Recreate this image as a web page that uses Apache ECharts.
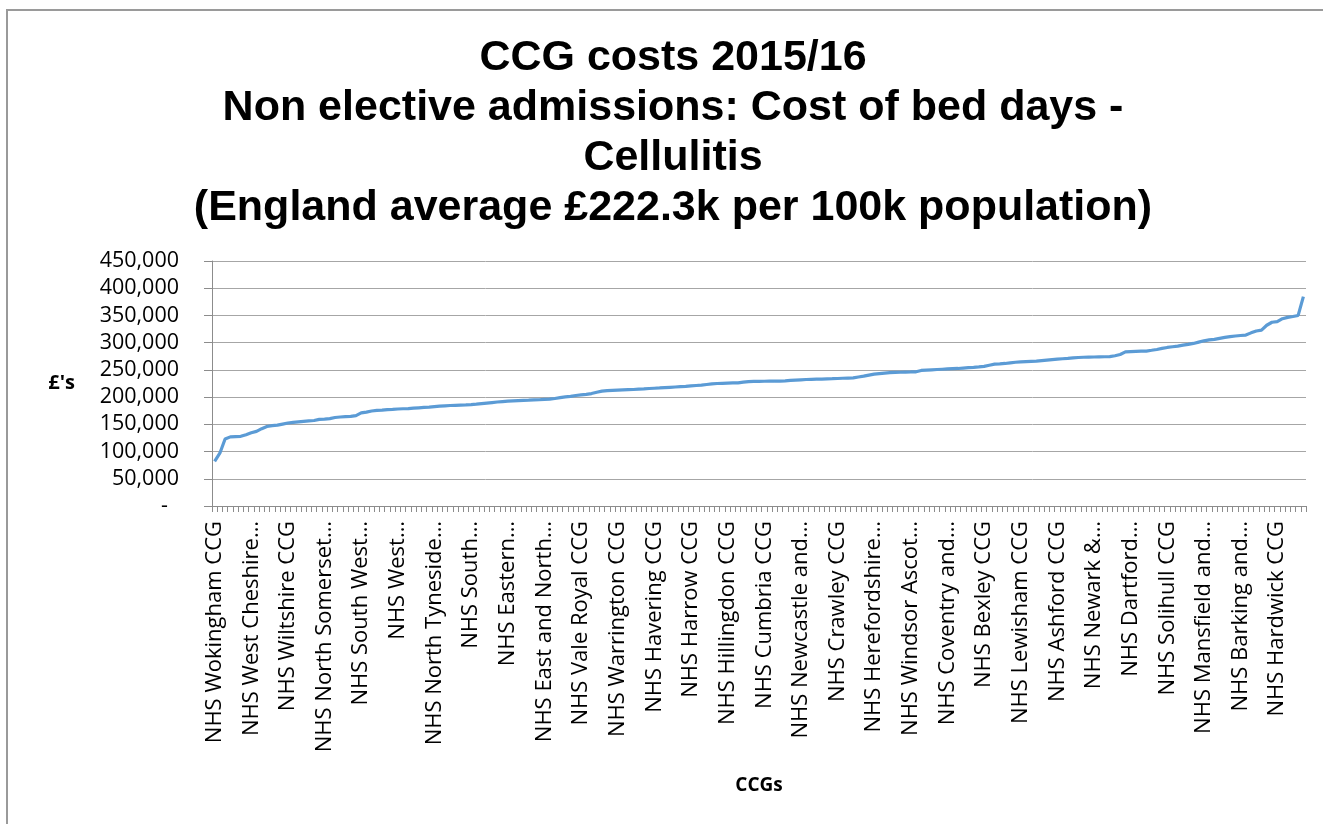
<!DOCTYPE html>
<html>
<head>
<meta charset="utf-8">
<script src="https://cdn.jsdelivr.net/npm/echarts@6/dist/echarts.min.js"></script>
<style>
html,body{margin:0;padding:0;background:#fff;}
#chart{width:1323px;height:824px;}
</style>
</head>
<body>
<div id="chart"></div>
<script>
const titleLines = [
  "CCG costs 2015/16",
  "Non elective admissions: Cost of bed days -",
  "Cellulitis",
  "(England average £222.3k per 100k population)"
];
const yAxisName = "£'s";
const xAxisName = "CCGs";
const ccgCount = 209;
const labelStep = 7;
const shownLabels = [
  "NHS Wokingham CCG", "NHS West Cheshire…", "NHS Wiltshire CCG", "NHS North Somerset…",
  "NHS South West…", "NHS West…", "NHS North Tyneside…", "NHS South…",
  "NHS Eastern…", "NHS East and North…", "NHS Vale Royal CCG", "NHS Warrington CCG",
  "NHS Havering CCG", "NHS Harrow CCG", "NHS Hillingdon CCG", "NHS Cumbria CCG",
  "NHS Newcastle and…", "NHS Crawley CCG", "NHS Herefordshire…", "NHS Windsor Ascot…",
  "NHS Coventry and…", "NHS Bexley CCG", "NHS Lewisham CCG", "NHS Ashford CCG",
  "NHS Newark &…", "NHS Dartford…", "NHS Solihull CCG", "NHS Mansfield and…",
  "NHS Barking and…", "NHS Hardwick CCG"
];
const costs = [
  82000, 97000, 123000, 127000, 127500, 128000, 131000, 134500, 137000, 142000,
  146000, 147500, 148500, 150500, 152500, 153500, 154500, 155500, 156500, 157000,
  159000, 159500, 160500, 162500, 163500, 164000, 164500, 166000, 171000, 172500,
  174500, 175500, 176000, 177000, 177500, 178200, 178600, 179000, 179800, 180400,
  181000, 181600, 182500, 183400, 184000, 184600, 185000, 185400, 185800, 186300,
  187000, 188000, 189000, 190000, 191000, 191800, 192500, 193000, 193500, 194000,
  194300, 194800, 195200, 195700, 196200, 197500, 199000, 200500, 201500, 203000,
  204000, 205000, 206500, 209000, 211000, 211800, 212300, 212800, 213200, 213600,
  214000, 214500, 215000, 215800, 216300, 216800, 217400, 218000, 218600, 219200,
  219800, 220600, 221300, 222000, 223200, 224300, 225000, 225400, 225700, 226000,
  226300, 227500, 228600, 228800, 229000, 229100, 229200, 229300, 229400, 229800,
  230600, 231300, 231800, 232300, 232600, 232900, 233200, 233500, 233800, 234200,
  234600, 235000, 235400, 237000, 238500, 240500, 242300, 243300, 244200, 245000,
  245400, 245700, 246000, 246200, 246500, 249000, 249700, 250200, 250700, 251200,
  251700, 252200, 252600, 253300, 254000, 254700, 255500, 256500, 258500, 260500,
  261000, 261800, 263000, 264000, 264800, 265200, 265600, 266000, 267000, 268000,
  269000, 269800, 270500, 271200, 272000, 272800, 273200, 273500, 273700, 273900,
  274100, 274300, 276000, 278300, 283000, 283600, 284000, 284300, 284600, 286000,
  287500, 289500, 291200, 292500, 293700, 295500, 297000, 298600, 301000, 303400,
  305000, 306000, 308000, 309600, 311000, 312200, 313200, 314000, 318000, 321500,
  323000, 332000, 337500, 338500, 344000, 346500, 348000, 350000, 384500
];
const yMax = 450000;
const yInterval = 50000;

const categories = [];
for (let i = 0; i < ccgCount; i++) {
  categories.push(i % labelStep === 0 ? shownLabels[i / labelStep] : '');
}

const chart = echarts.init(document.getElementById('chart'), null, {renderer: 'canvas'});
const gray = '#8c8c8c';
chart.setOption({
  backgroundColor: '#ffffff',
  animation: false,
  graphic: [{
    type: 'rect',
    shape: {x: 7, y: 10, width: 1400, height: 900},
    style: {fill: 'none', stroke: '#9a9a9a', lineWidth: 2},
    z: -1
  }],
  title: {
    text: titleLines.join('\n'),
    left: 668,
    top: 28,
    textAlign: 'center',
    textStyle: {
      fontFamily: 'Liberation Sans, Arial, sans-serif',
      fontWeight: 'bold',
      fontSize: 43,
      lineHeight: 50,
      color: '#000'
    }
  },
  grid: {left: 212, right: 17, top: 261, bottom: 318, containLabel: false},
  xAxis: {
    type: 'category',
    data: categories,
    boundaryGap: true,
    name: xAxisName,
    nameLocation: 'middle',
    nameGap: 270,
    nameTextStyle: {fontFamily: 'Open Sans, sans-serif', fontWeight: 'bold', fontSize: 19, color: '#000'},
    axisLine: {show: true, lineStyle: {color: gray, width: 1}},
    axisTick: {show: true, interval: 0, length: 6, lineStyle: {color: gray}},
    axisLabel: {
      interval: labelStep - 1,
      rotate: 90,
      margin: 15,
      fontFamily: 'Open Sans, sans-serif',
      fontSize: 22,
      color: '#000'
    },
    splitLine: {show: false}
  },
  yAxis: {
    type: 'value',
    min: 0,
    max: yMax,
    interval: yInterval,
    name: yAxisName,
    nameLocation: 'middle',
    nameRotate: 0,
    nameGap: 137,
    nameTextStyle: {fontFamily: 'Open Sans, sans-serif', fontWeight: 'bold', fontSize: 20, color: '#000'},
    axisLine: {show: true, lineStyle: {color: gray, width: 1}},
    axisTick: {show: true, length: 8, lineStyle: {color: gray}},
    axisLabel: {
      margin: 33,
      fontFamily: 'Open Sans, sans-serif',
      fontSize: 21.5,
      color: '#000',
      formatter: function (v) { return v === 0 ? '-  ' : v.toLocaleString('en-US'); }
    },
    splitLine: {show: true, lineStyle: {color: '#a6a6a6', width: 1}}
  },
  series: [{
    type: 'line',
    data: costs,
    showSymbol: false,
    symbol: 'none',
    lineStyle: {color: '#5b9bd5', width: 3.2},
    itemStyle: {color: '#5b9bd5'}
  }]
});
</script>
</body>
</html>
